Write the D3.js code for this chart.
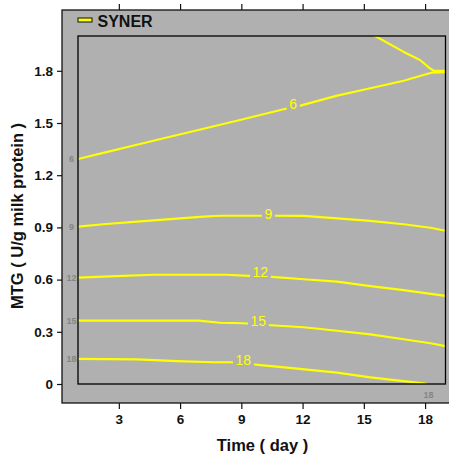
<!DOCTYPE html>
<html><head><meta charset="utf-8">
<script src="https://cdn.jsdelivr.net/npm/d3@7"></script>
<style>body{margin:0;background:#fff}svg{display:block}</style>
</head><body><svg id="c" width="449" height="457"></svg>
<script>
// ---- data ----
const seriesName = "SYNER";
const xTicks = [3, 6, 9, 12, 15, 18];
const yTicks = [0, 0.3, 0.6, 0.9, 1.2, 1.5, 1.8];
const yTickLabels = ["0", "0.3", "0.6", "0.9", "1.2", "1.5", "1.8"];
const xTitle = "Time ( day )";
const yTitle = "MTG ( U/g milk protein )";
const contourLevels = [6, 9, 12, 15, 18];
// contour lines as [day, MTG] pairs
const contour6 = [[1,1.293],[2.24,1.328],[3.88,1.375],[5.51,1.421],[7.15,1.467],[8.78,1.513],[11.07,1.579],[11.89,1.600],[13.69,1.657],[15.32,1.700],[16.95,1.743],[18.35,1.79],[19,1.792]];
const contour6Upper = [[15.4,2.01],[16.93,1.91],[17.75,1.862],[18.24,1.814],[18.43,1.80],[19,1.80]];
const contour9 = [[1,0.904],[2.24,0.918],[3.88,0.933],[5.51,0.948],[7.15,0.962],[7.97,0.967],[9.93,0.967],[10.58,0.967],[12.05,0.966],[13.69,0.952],[15.32,0.937],[16.95,0.918],[18.26,0.898],[19,0.881]];
const contour12 = [[1,0.611],[2.24,0.617],[3.22,0.621],[4.69,0.628],[8.29,0.628],[9.35,0.621],[10.33,0.617],[12.05,0.602],[13.69,0.588],[15.32,0.563],[16.95,0.540],[19,0.506]];
const contour15 = [[1,0.364],[6.9,0.364],[7.96,0.352],[9.11,0.349],[10.25,0.339],[12.05,0.326],[13.69,0.306],[15.32,0.285],[16.95,0.257],[18.26,0.234],[19,0.218]];
const contour18 = [[1,0.144],[3.88,0.142],[5.84,0.132],[7.64,0.125],[8.54,0.125],[9.95,0.109],[11.24,0.094],[13.69,0.065],[15.32,0.038],[16.95,0.017],[17.93,0.004],[18.1,0]];
// in-line label positions [day, MTG]
const labelDays = [11.54, 10.32, 9.93, 9.83, 9.1];
const labelValues = [1.609, 0.975, 0.644, 0.361, 0.140];
// faint edge labels
const edgeLabelDays = [0.68, 0.68, 0.68, 0.68, 0.68, 18.17];
const edgeLabelValues = [1.293, 0.904, 0.611, 0.364, 0.144, -0.063];
const edgeLabelTexts = ["6", "9", "12", "15", "18", "18"];

// ---- layout ----
const svg = d3.select("#c");
const FONT = "'Liberation Sans', Arial, sans-serif";
const panelColor = "#b0b0b0";
const lineColor = "#ffff00";
const x = d3.scaleLinear().domain([1, 19]).range([78, 445.5]);
const y = d3.scaleLinear().domain([0, 2]).range([384, 36]);
const panel = {left: 62, top: 10, right: 452, bottom: 403};

svg.append("rect").attr("x", panel.left).attr("y", panel.top)
  .attr("width", panel.right - panel.left).attr("height", panel.bottom - panel.top)
  .attr("fill", panelColor).attr("stroke", "#111").attr("stroke-width", 1.3);

svg.append("defs").append("clipPath").attr("id", "clip").append("rect")
  .attr("x", x(1)).attr("y", y(2)).attr("width", x(19) - x(1)).attr("height", y(0) - y(2));

const line = d3.line().x(d => x(d[0])).y(d => y(d[1]));
const contours = [contour6, contour6Upper, contour9, contour12, contour15, contour18];
const g = svg.append("g").attr("clip-path", "url(#clip)");
g.selectAll("path").data(contours).join("path")
  .attr("d", line).attr("fill", "none").attr("stroke", lineColor)
  .attr("stroke-width", 2.2).attr("stroke-linejoin", "round");

// inline labels with panel-coloured gap
const lg = svg.append("g");
contourLevels.forEach((lev, i) => {
  const t = lg.append("text").attr("x", x(labelDays[i])).attr("y", y(labelValues[i]))
    .attr("text-anchor", "middle").attr("dominant-baseline", "central")
    .attr("font-family", FONT).attr("font-size", 14).attr("fill", lineColor).text(lev);
  const b = t.node().getBBox();
  lg.insert("rect", () => t.node()).attr("x", b.x - 2.5).attr("y", b.y + 1)
    .attr("width", b.width + 5).attr("height", b.height - 2).attr("fill", panelColor);
});

// faint edge labels
svg.append("g").selectAll("text").data(edgeLabelTexts).join("text")
  .attr("x", (d, i) => x(edgeLabelDays[i])).attr("y", (d, i) => y(edgeLabelValues[i]))
  .attr("text-anchor", "middle").attr("dominant-baseline", "central")
  .attr("font-family", FONT).attr("font-size", 9).attr("font-weight", "bold")
  .attr("fill", "#858585").text(d => d);

// inner frame
svg.append("rect").attr("x", x(1)).attr("y", y(2))
  .attr("width", x(19) - x(1)).attr("height", y(0) - y(2))
  .attr("fill", "none").attr("stroke", "#000").attr("stroke-width", 1.3);

// axes
const ax = svg.append("g").attr("transform", `translate(0,${panel.bottom})`)
  .call(d3.axisBottom(x).tickValues(xTicks).tickSize(6).tickPadding(5));
const at = svg.append("g").attr("transform", `translate(0,${panel.top})`)
  .call(d3.axisTop(x).tickValues(xTicks).tickSize(6).tickFormat(""));
const ay = svg.append("g").attr("transform", `translate(${panel.left},0)`)
  .call(d3.axisLeft(y).tickValues(yTicks).tickSize(5).tickPadding(4)
    .tickFormat((d, i) => yTickLabels[i]));
[ax, at, ay].forEach(a => {
  a.select(".domain").remove();
  a.selectAll("line").attr("stroke", "#111").attr("stroke-width", 1.2);
  a.selectAll("text").attr("font-family", FONT).attr("font-size", 13.5)
    .attr("font-weight", "bold").attr("fill", "#111");
});

// titles
svg.append("text").attr("x", 262.5).attr("y", 451).attr("text-anchor", "middle")
  .attr("font-family", FONT).attr("font-size", 16.5).attr("font-weight", "bold")
  .attr("fill", "#111").text(xTitle);
svg.append("text").attr("transform", "translate(23,216) rotate(-90)")
  .attr("text-anchor", "middle")
  .attr("font-family", FONT).attr("font-size", 16.5).attr("font-weight", "bold")
  .attr("fill", "#111").text(yTitle);

// legend
svg.append("rect").attr("x", 78).attr("y", 18).attr("width", 14).attr("height", 4)
  .attr("fill", lineColor).attr("stroke", "#111").attr("stroke-width", 1);
svg.append("text").attr("x", 97.5).attr("y", 26.5)
  .attr("font-family", FONT).attr("font-size", 16).attr("font-weight", "bold")
  .attr("fill", "#111").text(seriesName);
</script></body></html>
